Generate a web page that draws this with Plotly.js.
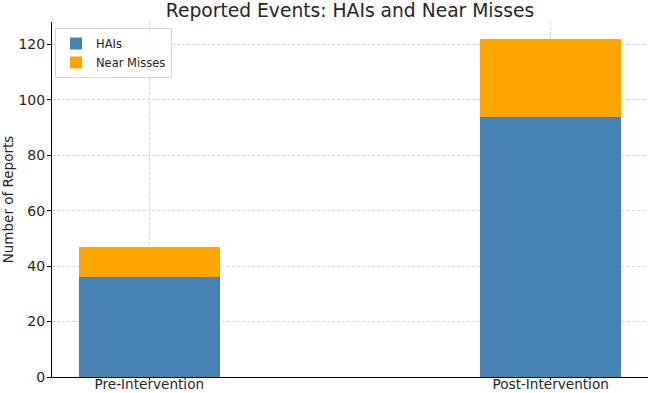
<!DOCTYPE html>
<html><head><meta charset="utf-8">
<script src="https://cdn.plot.ly/plotly-3.0.1.min.js"></script>
<style>html,body{margin:0;padding:0;background:#fff}#chart{width:650px;height:393px}</style>
</head><body><div id="chart"></div>
<script>
const categories = ["Pre-Intervention", "Post-Intervention"];
const hais = [36, 94];
const nearMisses = [11, 28];
const yTicks = [0, 20, 40, 60, 80, 100, 120];

const font = "DejaVu Sans, sans-serif";
const traces = [
  {type: "bar", name: "HAIs", x: categories, y: hais, width: 0.35, marker: {color: "#4682B4"}},
  {type: "bar", name: "Near Misses", x: categories, y: nearMisses, width: 0.35, marker: {color: "#FFA500"}}
];
const layout = {
  width: 650, height: 393,
  margin: {l: 52, r: 2, t: 22, b: 16},
  barmode: "stack",
  paper_bgcolor: "#fff", plot_bgcolor: "#fff",
  font: {family: font, color: "#262626"},
  title: {text: "Reported Events: HAIs and Near Misses", font: {family: font, size: 18.7, color: "#262626"},
          x: 0.5385, xanchor: "center", y: 0.99, yanchor: "top"},
  xaxis: {type: "category", range: [-0.2425, 1.2425], showline: true, linecolor: "#000", linewidth: 1,
          ticks: "outside", ticklen: 2, tickcolor: "#000", tickfont: {family: font, size: 13.6, color: "#262626"},
          ticklabelstandoff: -7,
          showgrid: true, gridcolor: "#d6d6d6", griddash: "3px,2px", gridwidth: 1},
  yaxis: {range: [0, 128.1], tickvals: yTicks, showline: true, linecolor: "#000", linewidth: 1,
          ticks: "outside", ticklen: 4, tickcolor: "#000", tickfont: {family: font, size: 14, color: "#262626"},
          ticklabelstandoff: -1,
          showgrid: true, gridcolor: "#d6d6d6", griddash: "3px,2px", gridwidth: 1, zeroline: false,
          title: {text: "Number of Reports", font: {family: font, size: 13.5, color: "#262626"}, standoff: 6}},
  legend: {x: 0.005, y: 0.983, xanchor: "left", yanchor: "top", traceorder: "normal",
           bgcolor: "rgba(255,255,255,0.9)", bordercolor: "#d8d8d8", borderwidth: 1,
           font: {family: font, size: 11.5, color: "#262626"}, tracegroupgap: 0}
};
Plotly.newPlot("chart", traces, layout, {staticPlot: true});
</script></body></html>
